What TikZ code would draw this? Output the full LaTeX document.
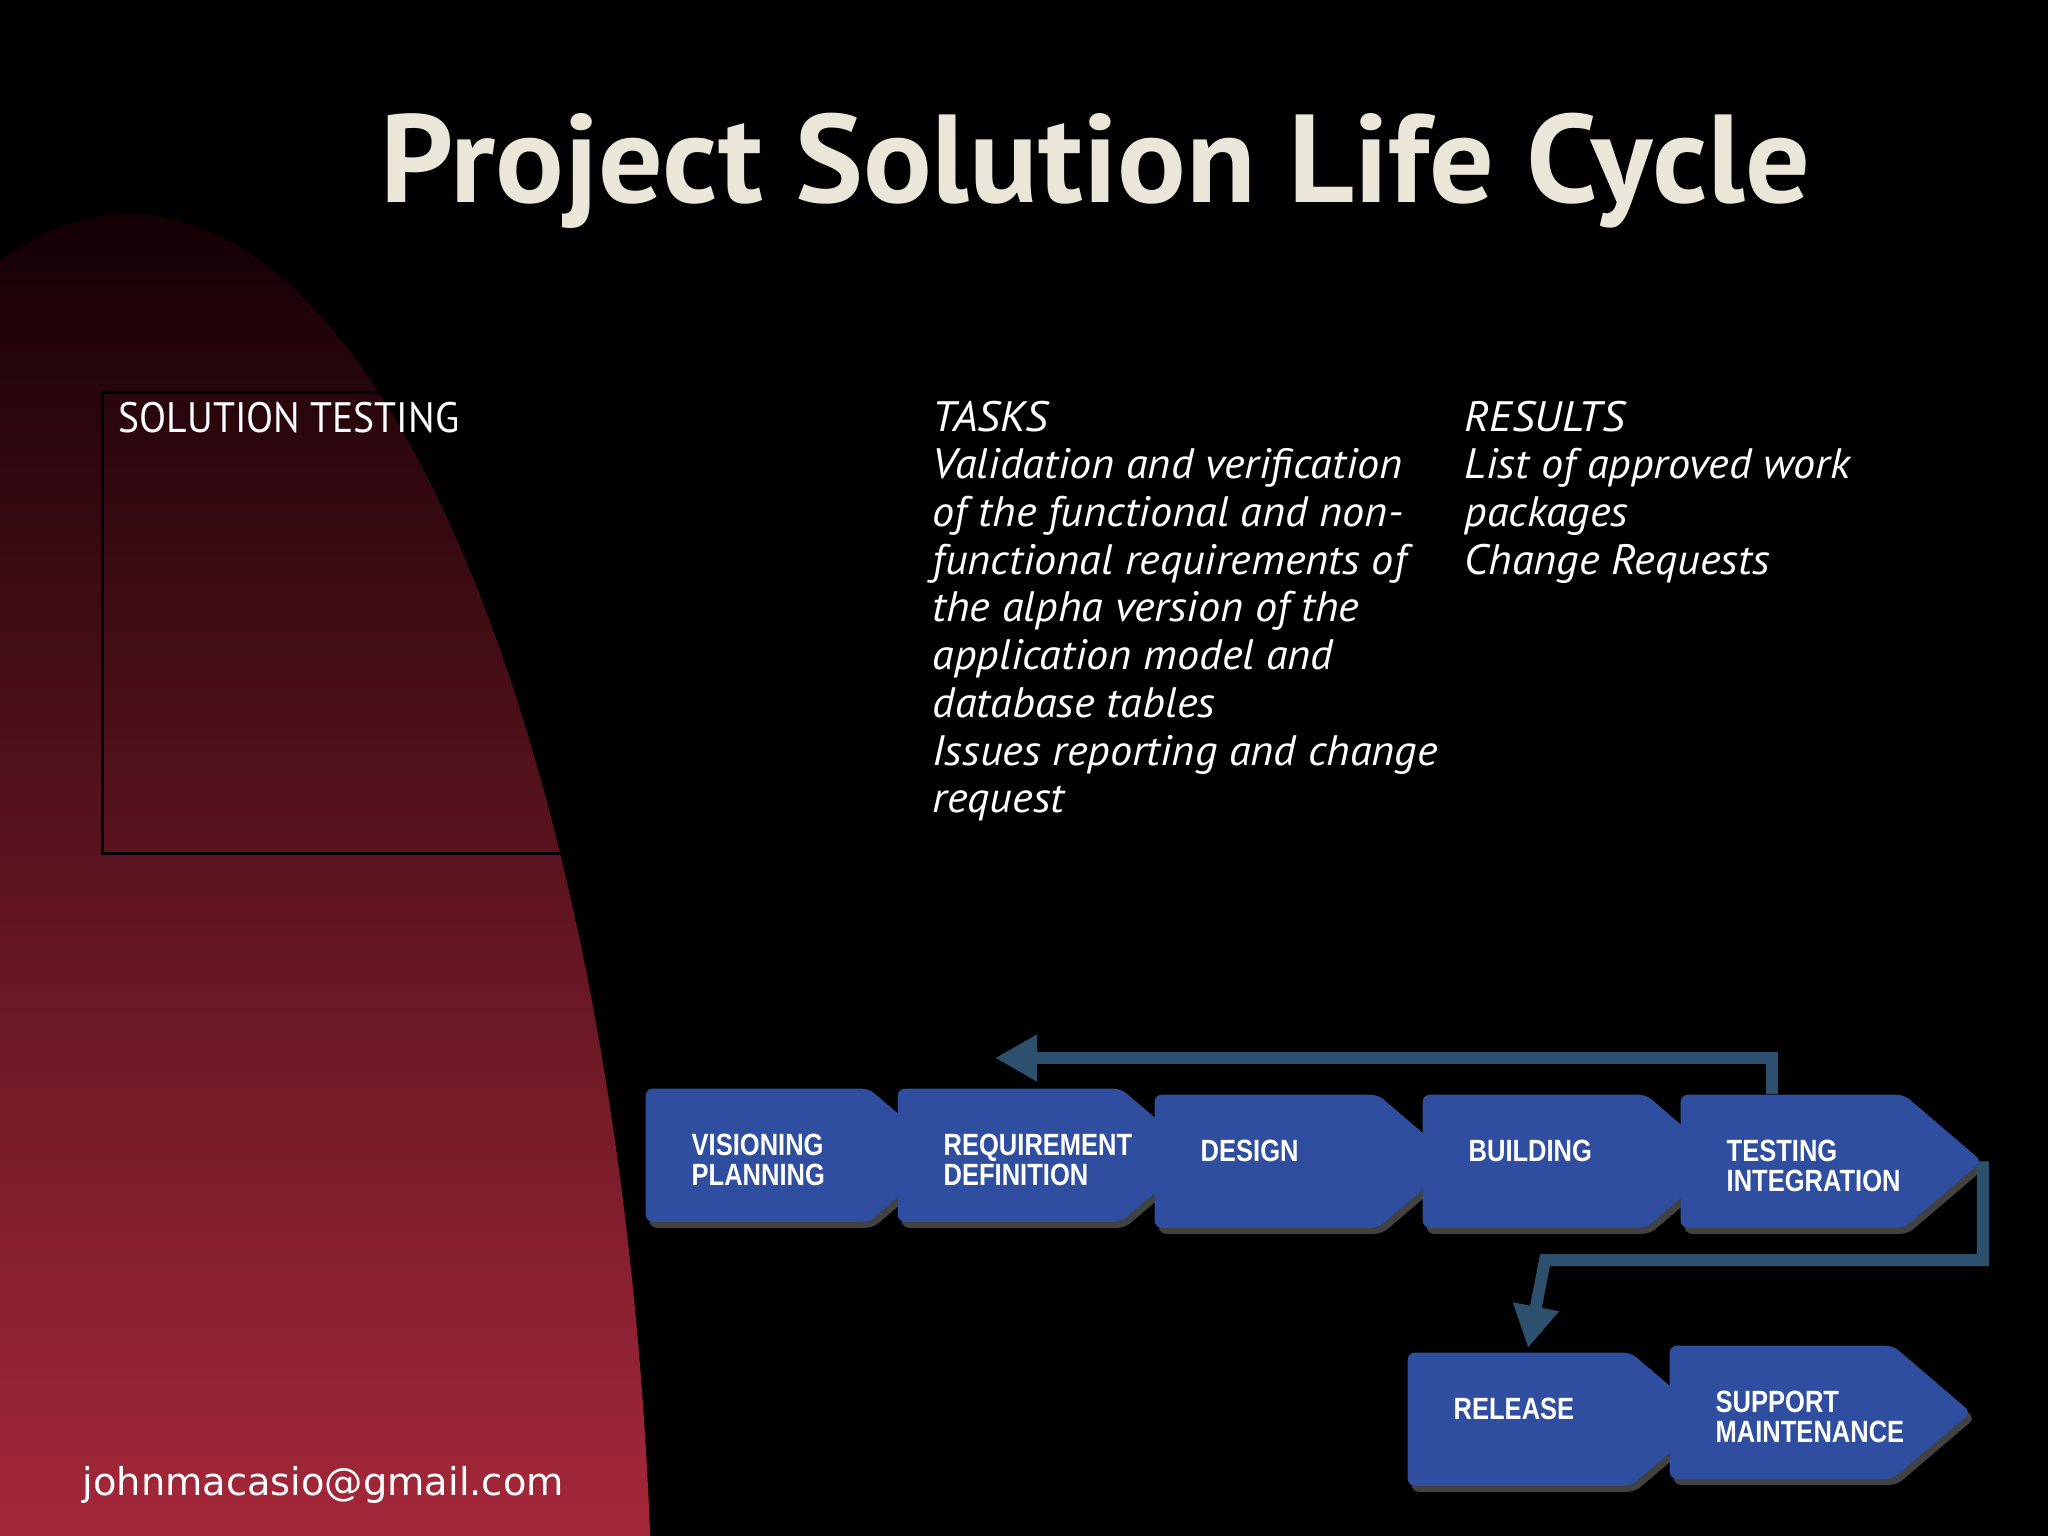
\documentclass[tikz,border=0pt]{standalone}
\usepackage{fontspec}
\setmainfont{PT Sans}
\newfontfamily\titlefont{PT Sans}[FakeStretch=1.023]
\newfontfamily\narrowsans{PT Sans}[FakeStretch=0.93]
\newfontfamily\widesans{PT Sans}[FakeStretch=1.04]
\newfontfamily\boxfont{Liberation Sans}[FakeStretch=0.83]
\newfontfamily\mailfont{DejaVu Sans}
\usetikzlibrary{shapes.symbols,shadows,arrows.meta,calc}
\definecolor{boxblue}{RGB}{48,78,160}
\definecolor{shadowgray}{RGB}{66,66,66}
\definecolor{linkblue}{RGB}{44,80,110}
\definecolor{titlecream}{RGB}{234,231,216}
\definecolor{redtop}{RGB}{18,0,4}
\definecolor{redmid}{RGB}{112,29,42}
\definecolor{redbot}{RGB}{166,40,58}
\newcommand\twoline[2]{\begin{tabular}[t]{@{}l@{}}#1\\#2\end{tabular}}
\newcommand\textcol[1]{\begin{tabular}[t]{@{}l@{}}#1\end{tabular}}
\begin{document}
\begin{tikzpicture}[x=0.01cm,y=-0.01cm,
  stage/.style={shape=signal, signal to=east, signal from=nowhere,
    signal pointer angle=81, fill=boxblue, draw=none,
    minimum width=3.01cm, minimum height=1.33cm, inner sep=0pt,
    rounded corners=0.07cm, anchor=north west,
    drop shadow={shadow xshift=0.04cm, shadow yshift=-0.06cm, fill=shadowgray, opacity=1}},
  lbl/.style={anchor=base west, inner sep=0pt, text=white,
    font=\boxfont\bfseries\fontsize{8.74}{8.5}\selectfont},
  body/.style={anchor=base west, inner sep=0pt, text=white,
    font=\widesans\itshape\fontsize{12.1}{13.57}\selectfont},
  fb/.style={draw=linkblue, line width=0.12cm,
    -{Triangle[length=0.42cm, width=0.44cm]}}]
% background
\fill[black] (0,0) rectangle (2048,1536);
\useasboundingbox (0,0) rectangle (2048,1536);
\begin{scope}
  \clip (130,1700) ellipse [x radius=5.23cm, y radius=14.85cm];
  \shade[top color=redtop, middle color=redmid, bottom color=redbot] (-10,200) rectangle (800,1546);
\end{scope}
% title
\node[anchor=base west, inner sep=0pt, text=titlecream,
  font=\titlefont\bfseries\fontsize{35.6}{40}\selectfont] (title) at (380,202) {Project Solution Life Cycle};
% left panel
\draw[black, line width=0.03cm] (102,392) rectangle (562,853);
\node[anchor=base west, inner sep=0pt, text=white,
  font=\narrowsans\fontsize{12.1}{14}\selectfont] (phase) at (118,432) {SOLUTION TESTING};
% task / result columns
\node[body] (tasks) at (932,431) {\textcol{TASKS\\Validation and verification\\of the functional and non-\\functional requirements of\\the alpha version of the\\application model and\\database tables\\Issues reporting and change\\request}};
\node[body] (results) at (1464,431) {\textcol{RESULTS\\List of approved work\\packages\\Change Requests}};
% stages
\node[stage] (vis) at (645,1088) {};
\node[lbl] (visT) at ($(vis.west)+(46,0)$) {\twoline{VISIONING}{PLANNING}};
\node[stage] (req) at (897,1088) {};
\node[lbl] (reqT) at ($(req.west)+(46,0)$) {\twoline{REQUIREMENT}{DEFINITION}};
\node[stage] (des) at (1154,1094) {};
\node[lbl] (desT) at ($(des.west)+(46,0)$) {DESIGN};
\node[stage] (bui) at (1422,1094) {};
\node[lbl] (buiT) at ($(bui.west)+(46,0)$) {BUILDING};
\node[stage] (tes) at (1680,1094) {};
\node[lbl] (tesT) at ($(tes.west)+(46,0)$) {\twoline{TESTING}{INTEGRATION}};
\node[stage] (rel) at (1407,1352) {};
\node[lbl] (relT) at ($(rel.west)+(46,0)$) {RELEASE};
\node[stage] (sup) at (1669,1345) {};
\node[lbl] (supT) at ($(sup.west)+(46,0)$) {\twoline{SUPPORT}{MAINTENANCE}};
% connectors
\draw[fb] ($(tes.north west)+(92,0)$) |- ($(req.north west)+(98,-30)$);
\draw[fb] (tes.east) |- ($(rel.north west)+(138,-92)$) -- ($(rel.north west)+(121,-4)$);
% footer
\node[anchor=base west, inner sep=0pt, text=white,
  font=\mailfont\fontsize{10.9}{13}\selectfont] (mail) at (82,1495) {johnmacasio@gmail.com};
\end{tikzpicture}
\end{document}
